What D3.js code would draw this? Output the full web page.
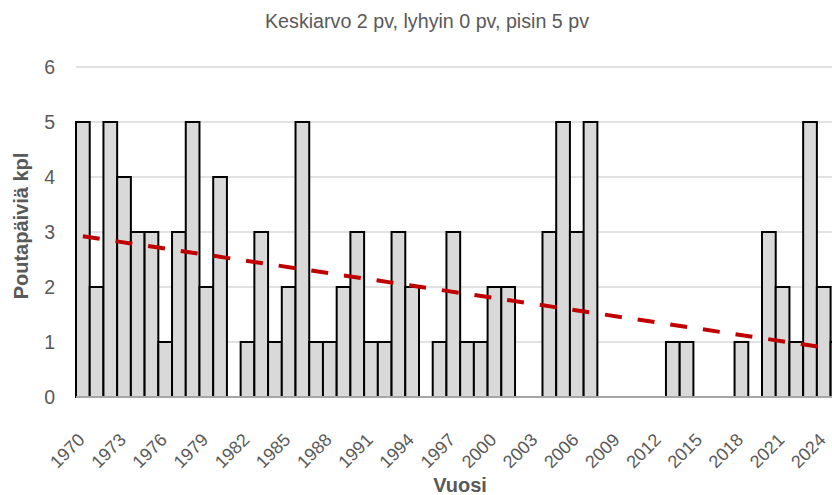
<!DOCTYPE html>
<html>
<head>
<meta charset="utf-8">
<script src="https://cdn.jsdelivr.net/npm/d3@7"></script>
<style>
  html, body { margin: 0; padding: 0; background: #fff; }
  svg { display: block; }
  text { font-family: "Liberation Sans", Arial, sans-serif; fill: #595959; }
</style>
</head>
<body>
<svg id="chart" width="832" height="495"></svg>
<script>
// Poutapäivien määrä vuosittain
const years = d3.range(1970, 2026);
const counts = [
  5, 2, 5, 4, 3, 3, 1, 3, 5, 2, 4, 0,          // 1970–1981
  1, 3, 1, 2, 5, 1, 1, 2, 3, 1, 1, 3, 2, 0,    // 1982–1995
  1, 3, 1, 1, 2, 2, 0, 0,                      // 1996–2003
  3, 5, 3, 5, 0, 0, 0, 0, 0,                   // 2004–2012
  1, 1, 0, 0, 0, 1, 0, 3, 2, 1, 5, 2, 1        // 2013–2025
];
const yTicks = [0, 1, 2, 3, 4, 5, 6];
const xTickYears = d3.range(1970, 2025, 3);
const titleText = "Keskiarvo 2 pv, lyhyin 0 pv, pisin 5 pv";
const yTitle = "Poutapäiviä kpl";
const xTitle = "Vuosi";

const svg = d3.select("#chart");
const plotLeft = 76, step = 13.72;
const plotRight = plotLeft + step * years.length;
const plotTop = 67, plotBottom = 397;

const x = d3.scaleBand().domain(years).range([plotLeft, plotRight]).padding(0);
const y = d3.scaleLinear().domain([0, 6]).range([plotBottom, plotTop]);

// gridlines
svg.append("g").selectAll("line").data(yTicks.filter(d => d > 0)).join("line")
  .attr("x1", plotLeft).attr("x2", plotRight)
  .attr("y1", d => y(d)).attr("y2", d => y(d))
  .attr("stroke", "#d9d9d9").attr("stroke-width", 1.3);

// bars
svg.append("g").selectAll("rect").data(years.map((yr, i) => ({ yr, v: counts[i] })).filter(d => d.v > 0))
  .join("rect")
  .attr("x", d => x(d.yr))
  .attr("width", x.bandwidth())
  .attr("y", d => y(d.v))
  .attr("height", d => y(0) - y(d.v))
  .attr("fill", "#d9d9d9")
  .attr("stroke", "#000")
  .attr("stroke-width", 2);

// baseline
svg.append("line")
  .attr("x1", plotLeft).attr("x2", plotRight)
  .attr("y1", y(0)).attr("y2", y(0))
  .attr("stroke", "#a6a6a6").attr("stroke-width", 2);

// linear trend (least squares over year index)
const n = counts.length;
const mx = d3.mean(d3.range(n)), my = d3.mean(counts);
const sxy = d3.sum(counts, (v, i) => (i - mx) * (v - my));
const sxx = d3.sum(d3.range(n), i => (i - mx) * (i - mx));
const slope = sxy / sxx, icpt = my - slope * mx;
const trend = [0, n - 1].map(i => [x(years[i]) + x.bandwidth() / 2, y(icpt + slope * i)]);
svg.append("path")
  .attr("d", d3.line()(trend))
  .attr("fill", "none")
  .attr("stroke", "#c00000")
  .attr("stroke-width", 4)
  .attr("stroke-dasharray", "17,16");

// y tick labels
svg.append("g").selectAll("text").data(yTicks).join("text")
  .attr("x", 55).attr("y", d => y(d))
  .attr("dy", "0.35em")
  .attr("text-anchor", "end")
  .style("font-size", "19.5px")
  .text(d => d);

// x tick labels
svg.append("g").selectAll("text").data(xTickYears).join("text")
  .attr("text-anchor", "end")
  .attr("transform", d => `translate(${x(d) + x.bandwidth() / 2 + 3},441) rotate(-45)`)
  .style("font-size", "18px")
  .text(d => d);

// titles
svg.append("text")
  .attr("x", 427).attr("y", 28)
  .attr("text-anchor", "middle")
  .attr("textLength", 324).attr("lengthAdjust", "spacingAndGlyphs")
  .style("font-size", "20px")
  .text(titleText);

svg.append("text")
  .attr("transform", "translate(27.5,226) rotate(-90)")
  .attr("text-anchor", "middle")
  .style("font-size", "20px").style("font-weight", "bold")
  .text(yTitle);

svg.append("text")
  .attr("x", 460).attr("y", 492)
  .attr("text-anchor", "middle")
  .style("font-size", "20px").style("font-weight", "bold")
  .text(xTitle);
</script>
</body>
</html>
